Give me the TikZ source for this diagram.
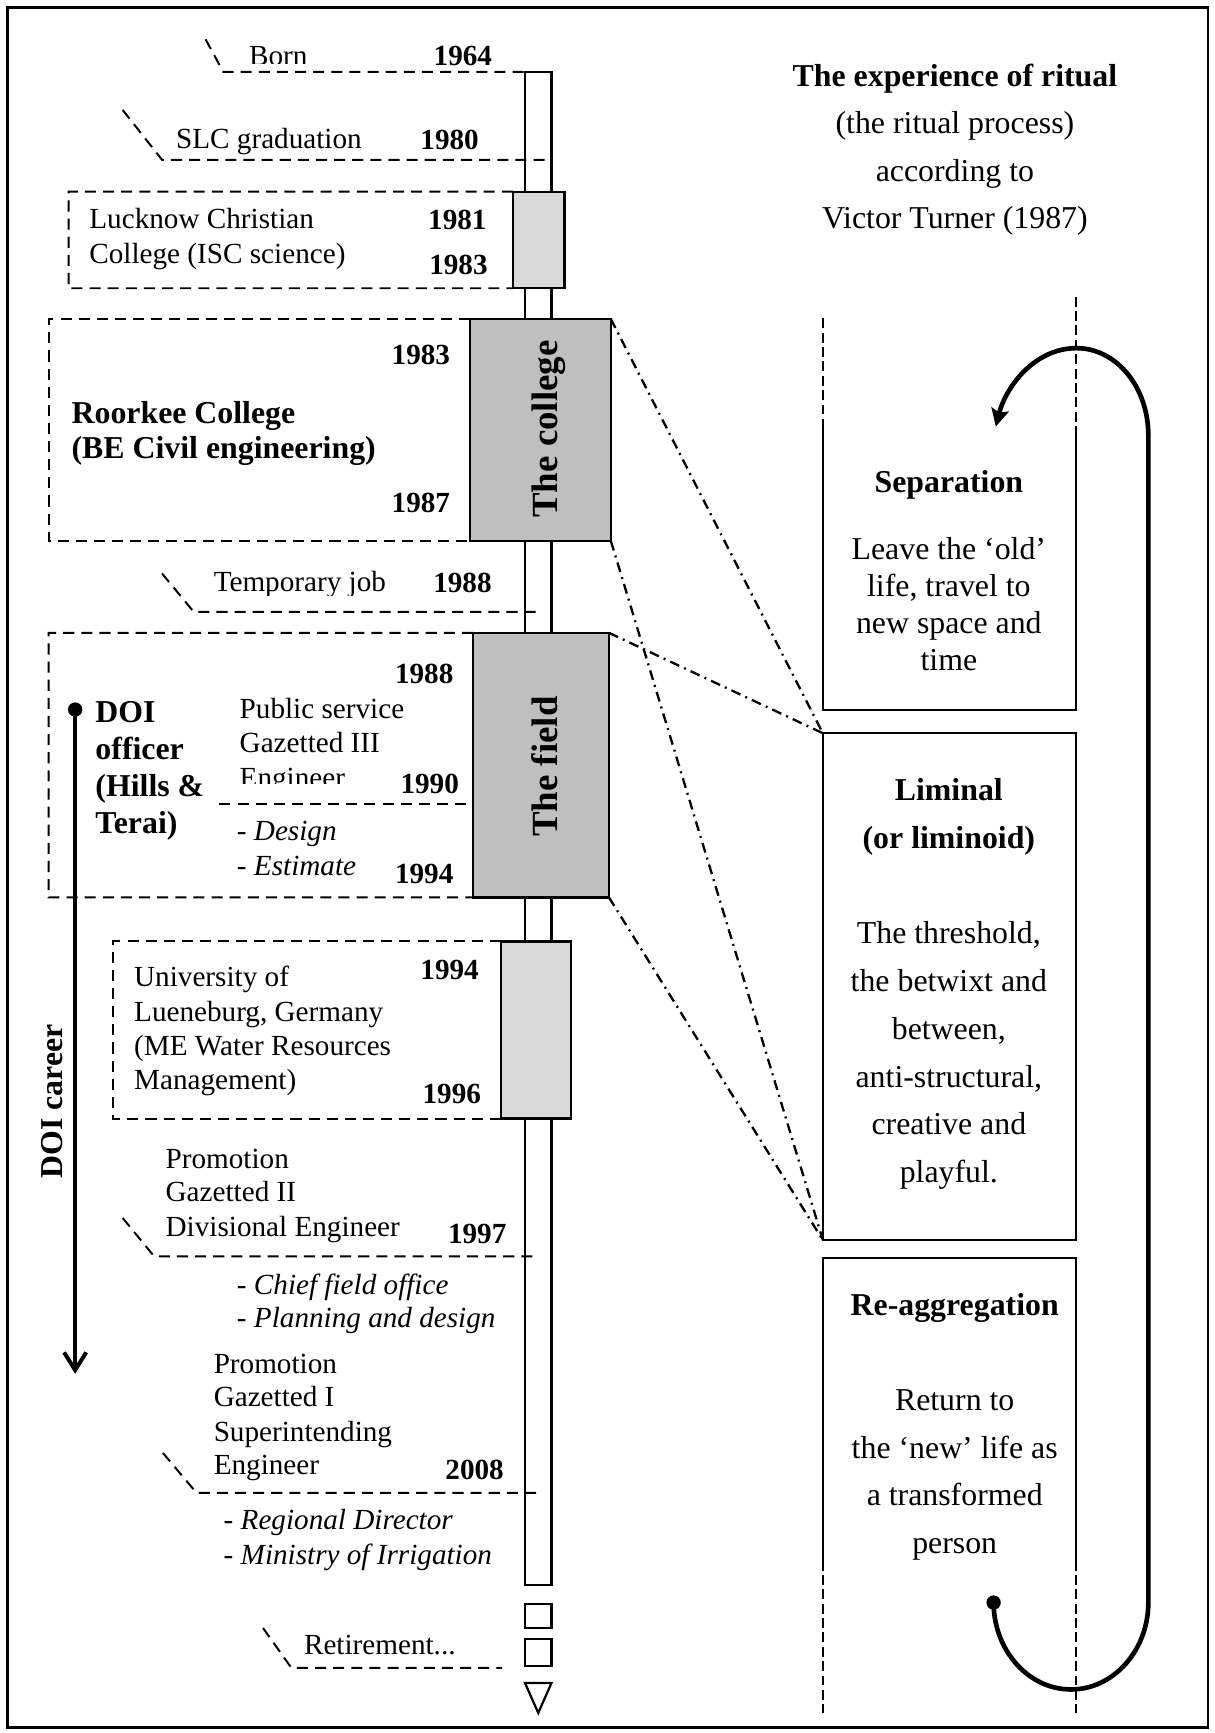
\documentclass[tikz,border=0pt]{standalone}
\usepackage{fontspec}
\setmainfont{Liberation Serif}
\usetikzlibrary{arrows.meta}
\definecolor{lgrey}{HTML}{D9D9D9}
\definecolor{dgrey}{HTML}{BFBFBF}
\newcommand{\smf}{\fontsize{13.2}{15.8}\selectfont}
\newcommand{\bgf}{\fontsize{14.4}{17.3}\selectfont}
\newcommand{\brf}{\fontsize{16.7}{20}\selectfont}
\begin{document}
\begin{tikzpicture}[x=0.5pt,y=-0.5pt,
  lt/.style={anchor=base west, inner sep=0, font=\smf},
  yr/.style={anchor=base west, inner sep=0, font=\smf\bfseries},
  it/.style={anchor=base west, inner sep=0, font=\smf\itshape},
  bb/.style={anchor=base west, inner sep=0, font=\bgf\bfseries},
  rt/.style={anchor=base, inner sep=0, font=\bgf},
  rb/.style={anchor=base, inner sep=0, font=\bgf\bfseries},
  vt/.style={anchor=base, inner sep=0, rotate=90, font=\brf\bfseries},
  vb/.style={anchor=base, inner sep=0, rotate=90, font=\bgf\bfseries},
  tl/.style={dash pattern=on 5pt off 3.2pt, line width=0.9pt},
  dd/.style={line width=1.05pt, dash pattern=on 4.5pt off 2.4pt on 0.9pt off 2.4pt},
  rd/.style={line width=0.9pt, dash pattern=on 4.5pt off 2pt},
  rbox/.style={line width=0.9pt},
  tbox/.style={draw, line width=1pt, inner sep=0, outer sep=0, anchor=north west},
  loopline/.style={line width=2.1pt}
]
\useasboundingbox (0,0) rectangle (1099,1568);
\draw[line width=1.3pt] (7,7) rectangle (1093,1563);

% ---------- timeline bar and boxes ----------
\node[tbox, fill=white, minimum width=12pt, minimum height=684.5pt] (bar) at (475,65) {};
\node[tbox, fill=lgrey, minimum width=23.35pt, minimum height=43.7pt] (lucknow) at (464,173.4) {};
\node[tbox, fill=dgrey, minimum width=63.55pt, minimum height=100.35pt] (college) at (425.6,288.7) {};
\node[tbox, fill=dgrey, minimum width=61.5pt, minimum height=119.7pt] (field) at (428,572.6) {};
\node[tbox, fill=lgrey, minimum width=31.7pt, minimum height=80.1pt] (luene) at (453.4,851.8) {};
\node[tbox, minimum width=12pt, minimum height=11pt] (sq1) at (475,1451) {};
\node[tbox, minimum width=12pt, minimum height=12.5pt] (sq2) at (475,1482.6) {};
\draw[line width=1pt] (475,1522.7) -- (499,1522.7) -- (487,1549.8) -- cycle;

\node[vt] (tcollege) at (504,388.2) {The college};
\node[vt] (tfield) at (504,693.7) {The field};

% ---------- timeline dashed markers ----------
\coordinate (bornA) at (186,35.6); \coordinate (bornB) at (202,65);
\draw[tl] (bornA) -- (bornB) -- (bar.north west);
\coordinate (slcA) at (111,99.5); \coordinate (slcB) at (146.7,144.7); \coordinate (slcC) at (495,144.7);
\draw[tl] (slcA) -- (slcB) -- (slcC);
\draw[tl] (lucknow.north west) -- (62,173.4) -- (62,260.8) -- (lucknow.south west);
\draw[tl] (college.north west) -- (44,288.7) -- (44,489.4) -- (college.south west);
\coordinate (tmpA) at (146.6,518.9); \coordinate (tmpB) at (175.3,553.6); \coordinate (tmpC) at (486.4,553.6);
\draw[tl] (tmpA) -- (tmpB) -- (tmpC);
\draw[tl] (field.north west) -- (44,572.6) -- (44,812) -- (field.south west);
\coordinate (desA) at (198.5,727.6);
\draw[tl] (desA) -- (desA -| field.west);
\draw[tl] (luene.north west) -- (102,851.8) -- (102,1012) -- (luene.south west);
\coordinate (pAa) at (111,1102); \coordinate (pAb) at (139.5,1136.8); \coordinate (pAc) at (488,1136.8);
\draw[tl] (pAa) -- (pAb) -- (pAc);
\coordinate (pBa) at (147.4,1314.6); \coordinate (pBb) at (177.8,1350.7); \coordinate (pBc) at (488,1350.7);
\draw[tl] (pBa) -- (pBb) -- (pBc);
\coordinate (retA) at (238,1473); \coordinate (retB) at (263.6,1509); \coordinate (retC) at (454.3,1509);
\draw[tl] (retA) -- (retB) -- (retC);

% ---------- timeline texts ----------
\begin{scope}
\clip (200,20) rectangle (320,57.3);
\node[lt] (born) at (225,59.5) {Born};
\end{scope}
\node[yr] (y1964) at (392,59.7) {1964};
\node[lt] (slc) at (159,134.5) {SLC graduation};
\node[yr] (y1980) at (380,135) {1980};
\node[lt] (luck1) at (80.5,206.5) {Lucknow Christian};
\node[lt] (luck2) at (80.5,238) {College (ISC science)};
\node[yr] (y1981) at (387,207.5) {1981};
\node[yr] (y1983a) at (388,248.8) {1983};

\node[yr] (y1983b) at (354,330.2) {1983};
\node[bb] (roor1) at (64.4,382.8) {Roorkee College};
\begin{scope}
\clip (40,390) rectangle (420,420.3);
\node[bb] (roor2) at (64.4,415) {(BE Civil engineering)};
\end{scope}
\node[yr] (y1987) at (354,463.5) {1987};

\begin{scope}
\clip (180,500) rectangle (380,538.5);
\node[lt] (tmpjob) at (193,535) {Temporary job};
\end{scope}
\node[yr] (y1988a) at (391.6,536.2) {1988};

\node[yr] (y1988b) at (357,618.6) {1988};
\node[bb] (doi1) at (86,654) {DOI};
\node[bb] (doi2) at (86,687.5) {officer};
\node[bb] (doi3) at (86,721) {(Hills \&};
\node[bb] (doi4) at (86,754.5) {Terai)};
\node[lt] (ps1) at (216.5,650.4) {Public service};
\node[lt] (ps2) at (216.5,681) {Gazetted III};
\begin{scope}
\clip (210,690) rectangle (340,709.3);
\node[lt] (ps3) at (216.5,712.5) {Engineer};
\end{scope}
\node[yr] (y1990) at (362,718) {1990};
\node[it] (des1) at (214,760.6) {- Design};
\node[it] (des2) at (214,791.7) {- Estimate};
\node[yr] (y1994a) at (357,799.3) {1994};

\node[yr] (y1994b) at (380,886.5) {1994};
\node[lt] (un1) at (121,893) {University of};
\node[lt] (un2) at (121,924) {Lueneburg, Germany};
\node[lt] (un3) at (121,955) {(ME Water Resources};
\node[lt] (un4) at (121,986) {Management)};
\node[yr] (y1996) at (382,998) {1996};

\node[lt] (pa1) at (149.5,1057) {Promotion};
\node[lt] (pa2) at (149.5,1087) {Gazetted II};
\node[lt] (pa3) at (149.5,1118.5) {Divisional Engineer};
\node[yr] (y1997) at (405,1124.7) {1997};
\node[it] (cf1) at (214,1171.4) {- Chief field office};
\node[it] (cf2) at (214,1201) {- Planning and design};

\node[lt] (pb1) at (193,1243) {Promotion};
\node[lt] (pb2) at (193,1273) {Gazetted I};
\node[lt] (pb3) at (193,1304) {Superintending};
\node[lt] (pb4) at (193,1334.2) {Engineer};
\node[yr] (y2008) at (402.6,1338.8) {2008};
\node[it] (rd1) at (202,1384) {- Regional Director};
\node[it] (rd2) at (202,1415.6) {- Ministry of Irrigation};
\node[lt] (retire) at (274.7,1497) {Retirement...};

% ---------- DOI career arrow ----------
\node[circle, fill, inner sep=0, minimum size=6.5pt] (doidot) at (68,642) {};
\coordinate (doiend) at (68,1243);
\draw[line width=1.8pt, -{Straight Barb[length=8pt,width=10pt]}] (doidot.center) -- (doiend);
\node[vb] (doicareer) at (56.5,996.5) {DOI career};

% ---------- right side ----------
\node[rb] (title1) at (864,78) {The experience of ritual};
\node[rt] (title2) at (864,121) {(the ritual process)};
\node[rt] (title3) at (864,164) {according to};
\node[rt] (title4) at (864,207) {Victor Turner (1987)};

% separation (open box)
\draw[rd] (744.5,288) -- (744.5,388);
\draw[rd] (973.2,268.5) -- (973.2,389);
\draw[rbox] (744.5,388) -- (744.5,642.2) -- (973.2,642.2) -- (973.2,389);
\node[rb] (sep) at (858.5,445.7) {Separation};
\node[rt] (sep1) at (858.5,506) {Leave the ‘old’};
\node[rt] (sep2) at (858.5,539.7) {life, travel to};
\node[rt] (sep3) at (858.5,573) {new space and};
\node[rt] (sep4) at (858.5,606.7) {time};

% liminal
\node[draw, rbox, inner sep=0, outer sep=0, anchor=north west, minimum width=114.35pt, minimum height=229.3pt] (liminal) at (744.5,663.4) {};
\node[rb] (lim1) at (858.5,724.6) {Liminal};
\node[rb] (lim2) at (858.5,768) {(or liminoid)};
\node[rt] (lim3) at (858.5,853.8) {The threshold,};
\node[rt] (lim4) at (858.5,897.2) {the betwixt and};
\node[rt] (lim5) at (858.5,940.4) {between,};
\node[rt] (lim6) at (858.5,983.9) {anti-structural,};
\node[rt] (lim7) at (858.5,1026.8) {creative and};
\node[rt] (lim8) at (858.5,1069.7) {playful.};

% re-aggregation (open box)
\draw[rbox] (744.5,1412) -- (744.5,1137.8) -- (973.8,1137.8) -- (973.8,1412);
\draw[rd] (744.5,1412) -- (744.5,1550);
\draw[rd] (973.8,1412) -- (973.8,1550);
\node[rb] (reag) at (863.8,1190) {Re-aggregation};
\node[rt] (reag1) at (863.8,1276.3) {Return to};
\node[rt] (reag2) at (863.8,1319.3) {the ‘new’ life as};
\node[rt] (reag3) at (863.8,1362.3) {a transformed};
\node[rt] (reag4) at (863.8,1405.4) {person};

% dash-dot connectors
\draw[dd] (college.north east) -- (liminal.north west);
\draw[dd] (field.north east) -- (liminal.north west);
\draw[dd] (college.south east) -- (liminal.south west);
\draw[dd] (field.south east) -- (liminal.south west);

% loop
\node[circle, fill, inner sep=0, minimum size=6.5pt] (loopdot) at (899,1450) {};
\coordinate (loopend) at (901,386);
\draw[loopline, -{Stealth[length=8pt,width=8pt,inset=1.5pt]}] (loopdot.center)
  .. controls (899,1493) and (930.4,1528.6) .. (969,1528.6)
  .. controls (1007.6,1528.6) and (1039,1493) .. (1039,1450)
  -- (1039,394)
  .. controls (1039,350) and (1010,315) .. (974,315)
  .. controls (936,315) and (910,350) .. (loopend);
\end{tikzpicture}
\end{document}
